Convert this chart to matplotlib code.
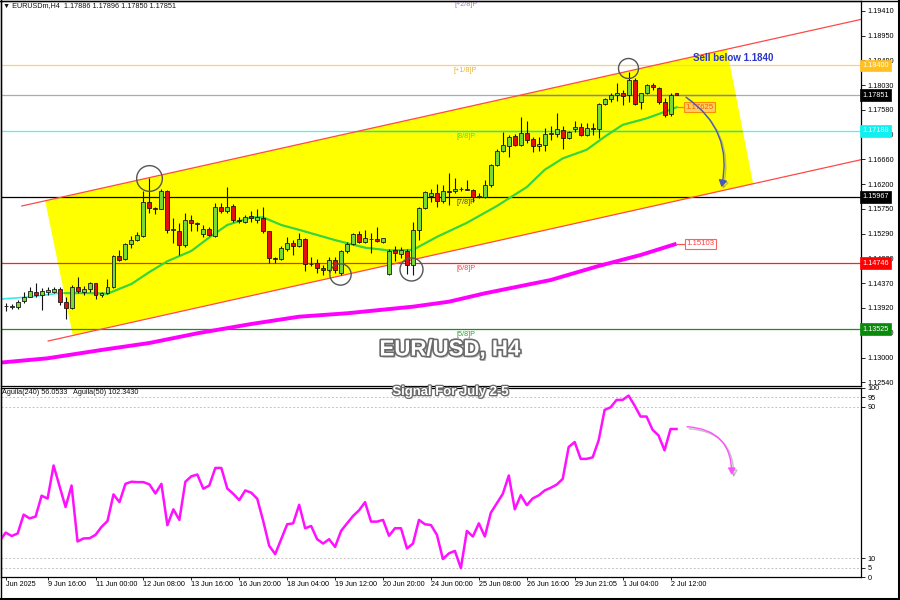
import numpy as np
import matplotlib
matplotlib.use('Agg')
import matplotlib.pyplot as plt
from matplotlib.patches import Polygon, FancyArrowPatch
import matplotlib.patheffects as pe

plt.rcParams['font.family'] = ['Liberation Sans', 'DejaVu Sans']

# EURUSD H4 candles, bar 0 = first visible candle (6 Jun 2025 ...)
opens = [1.1395, 1.1394, 1.1394, 1.1405, 1.1412, 1.1421, 1.1415, 1.1421, 1.1421, 1.1426,
         1.1402, 1.1391, 1.1430, 1.1421, 1.1426, 1.1437, 1.1415, 1.1419, 1.1430, 1.1488,
         1.1482, 1.1510, 1.1517, 1.1525, 1.1588, 1.1576, 1.1575, 1.1607, 1.1536, 1.1534,
         1.1508, 1.1554, 1.1548, 1.1528, 1.1537, 1.1525, 1.1578, 1.1570, 1.1580, 1.1554,
         1.1551, 1.1562, 1.1555, 1.1558, 1.1533, 1.1484, 1.1482, 1.1500, 1.1512, 1.1506,
         1.1519, 1.1473, 1.1474, 1.1465, 1.1462, 1.1480, 1.1456, 1.1496, 1.1510, 1.1528,
         1.1514, 1.1519, 1.1519, 1.1514, 1.1454, 1.1499, 1.1492, 1.1497, 1.1471, 1.1536,
         1.1576, 1.1598, 1.1604, 1.1590, 1.1607, 1.1607, 1.1611, 1.1611, 1.1610, 1.1597,
         1.1597, 1.1618, 1.1656, 1.1681, 1.1691, 1.1709, 1.1693, 1.1715, 1.1704, 1.1691,
         1.1693, 1.1713, 1.1713, 1.1720, 1.1705, 1.1723, 1.1726, 1.1711, 1.1724, 1.1722,
         1.1768, 1.1777, 1.1785, 1.1788, 1.1785, 1.1812, 1.1773, 1.1788, 1.1804, 1.1799,
         1.1773, 1.1750, 1.17886]
highs = [1.1401, 1.1399, 1.1406, 1.1421, 1.1430, 1.1438, 1.1428, 1.1430, 1.1430, 1.1430,
         1.1412, 1.1434, 1.1448, 1.1432, 1.1440, 1.1438, 1.1421, 1.1446, 1.1490, 1.1499,
         1.1511, 1.1524, 1.1532, 1.1607, 1.1631, 1.1579, 1.1611, 1.1610, 1.1558, 1.1548,
         1.1567, 1.1563, 1.1551, 1.1545, 1.1542, 1.1586, 1.1585, 1.1615, 1.1584, 1.1559,
         1.1563, 1.1571, 1.1574, 1.1579, 1.1534, 1.1486, 1.1506, 1.1522, 1.1517, 1.1530,
         1.1520, 1.1486, 1.1483, 1.1471, 1.1486, 1.1486, 1.1499, 1.1514, 1.1531, 1.1533,
         1.1536, 1.1530, 1.1542, 1.1521, 1.1500, 1.1506, 1.1505, 1.1500, 1.1551, 1.1579,
         1.1608, 1.1611, 1.1620, 1.1619, 1.1641, 1.1631, 1.1616, 1.1629, 1.1611, 1.1604,
         1.1628, 1.1657, 1.1685, 1.1716, 1.1711, 1.1714, 1.1744, 1.1738, 1.1708, 1.1708,
         1.1724, 1.1727, 1.1752, 1.1727, 1.1719, 1.1737, 1.1733, 1.1733, 1.1733, 1.1771,
         1.1779, 1.1789, 1.1807, 1.1794, 1.1828, 1.1816, 1.1789, 1.1806, 1.1808, 1.1800,
         1.1779, 1.1788, 1.17896]
lows = [1.1386, 1.1390, 1.1390, 1.1401, 1.1411, 1.1412, 1.1387, 1.1415, 1.1419, 1.1397,
        1.1371, 1.1390, 1.1419, 1.1415, 1.1421, 1.1408, 1.1412, 1.1417, 1.1428, 1.1479,
        1.1480, 1.1502, 1.1515, 1.1523, 1.1568, 1.1565, 1.1574, 1.1530, 1.1511, 1.1490,
        1.1504, 1.1533, 1.1533, 1.1523, 1.1525, 1.1522, 1.1568, 1.1568, 1.1551, 1.1548,
        1.1548, 1.1551, 1.1548, 1.1531, 1.1474, 1.1474, 1.1480, 1.1497, 1.1490, 1.1505,
        1.1460, 1.1469, 1.1456, 1.1453, 1.1459, 1.1456, 1.1453, 1.1493, 1.1508, 1.1512,
        1.1512, 1.1494, 1.1514, 1.1512, 1.1453, 1.1479, 1.1484, 1.1454, 1.1453, 1.1517,
        1.1575, 1.1588, 1.1578, 1.1585, 1.1582, 1.1604, 1.1607, 1.1610, 1.1588, 1.1594,
        1.1594, 1.1616, 1.1654, 1.1680, 1.1671, 1.1691, 1.1691, 1.1696, 1.1679, 1.1682,
        1.1682, 1.1702, 1.1707, 1.1685, 1.1703, 1.1717, 1.1709, 1.1709, 1.1711, 1.1705,
        1.1767, 1.1773, 1.1775, 1.1766, 1.1773, 1.1767, 1.1759, 1.1787, 1.1794, 1.1769,
        1.1745, 1.1747, 1.17850]
closes = [1.1396, 1.1395, 1.1403, 1.1412, 1.1423, 1.1415, 1.1423, 1.1424, 1.1427, 1.1402,
          1.1391, 1.1430, 1.1423, 1.1426, 1.1437, 1.1415, 1.1420, 1.1431, 1.1488, 1.1480,
          1.1509, 1.1518, 1.1526, 1.1588, 1.1576, 1.1575, 1.1608, 1.1536, 1.1538, 1.1508,
          1.1555, 1.1548, 1.1546, 1.1537, 1.1526, 1.1578, 1.1570, 1.1579, 1.1554, 1.1553,
          1.1559, 1.1557, 1.1559, 1.1533, 1.1484, 1.1482, 1.1502, 1.1511, 1.1506, 1.1519,
          1.1472, 1.1472, 1.1465, 1.1462, 1.1480, 1.1462, 1.1496, 1.1510, 1.1528, 1.1514,
          1.1520, 1.1519, 1.1515, 1.1520, 1.1497, 1.1493, 1.1498, 1.1471, 1.1536, 1.1577,
          1.1605, 1.1604, 1.1590, 1.1608, 1.1606, 1.1611, 1.1611, 1.1610, 1.1597, 1.1598,
          1.1618, 1.1656, 1.1682, 1.1693, 1.1707, 1.1693, 1.1715, 1.1702, 1.1691, 1.1695,
          1.1714, 1.1715, 1.1722, 1.1705, 1.1716, 1.1726, 1.1711, 1.1724, 1.1723, 1.1768,
          1.1777, 1.1785, 1.1788, 1.1784, 1.1813, 1.1769, 1.1788, 1.1804, 1.1800, 1.1772,
          1.1748, 1.1786, 1.17851]

# moving averages, read at sample bars
ma_fast_bars = [-1, 4, 9, 14, 17, 21, 24, 27, 31, 34, 37, 41, 43, 46, 49, 55, 60, 64, 68,
                72, 77, 82, 87, 90, 93, 97, 100, 103, 107, 110, 112]
ma_fast = [1.1408, 1.1412, 1.1419, 1.1419, 1.1418, 1.1436, 1.1458, 1.1478, 1.1497, 1.1522,
           1.1545, 1.1559, 1.1559, 1.1545, 1.1536, 1.1517, 1.1503, 1.1498, 1.1499, 1.1523,
           1.1549, 1.1580, 1.1615, 1.1647, 1.1668, 1.1684, 1.1708, 1.1730, 1.1742, 1.1754,
           1.17625]
ma_slow_bars = [-1, 7, 16, 24, 32, 41, 49, 57, 68, 74, 80, 91, 99, 106, 112]
ma_slow = [1.12905, 1.12986, 1.13140, 1.13269, 1.13448, 1.13620, 1.13755, 1.13818, 1.13940,
           1.14032, 1.14187, 1.14433, 1.14692, 1.14895, 1.15103]

# oscillator (Aguila), bars -1 .. 112
aguila = [19, 23.5, 21.7, 23, 33, 31, 32, 43, 41.5, 59, 48, 37, 48.4, 18.8, 20.4, 20.5, 22.3,
          26.5, 29.6, 43.7, 39.6, 49.3, 50.4, 50.2, 50.2, 49, 44.2, 49.3, 27.4, 35.8, 30.2,
          50.4, 53.3, 54.2, 46.7, 48.4, 57.7, 57.7, 46.8, 44, 40.7, 45.8, 44.6, 41.4, 29.6,
          16.5, 12.1, 20, 27.9, 28.4, 38.2, 25.8, 27, 20, 17.7, 20, 15.9, 24.4, 28.4, 32.3,
          35.3, 39.6, 29.3, 29.3, 30.2, 21.8, 25.8, 25.8, 15.1, 17.7, 30.2, 27.9, 27.5, 22.3,
          9.5, 12.5, 13.8, 4.7, 24.4, 21.4, 28.4, 21.4, 34, 39, 44, 53.7, 35.8, 43.3, 38,
          41.6, 43.2, 45.8, 47.2, 48.9, 51.9, 68.8, 71.4, 62.5, 62.5, 63.3, 72.3, 88.4, 89.8,
          93.7, 93.7, 96, 90.7, 84.9, 84.9, 77.9, 74.9, 67, 78.3, 78.3]

# Murrey math levels
murrey_names = ['[+2/8]P', '[+1/8]P', '[8/8]P', '[7/8]P', '[6/8]P', '[5/8]P']
murrey_levels = [1.19621, 1.18400, 1.17188, 1.15967, 1.14746, 1.13525]
murrey_line_col = ['#B070E0', '#FFD070', '#40F8F8', '#000000', '#FF2020', '#1E8C1E']
murrey_text_col = ['#B070E0', '#F0B030', '#40E040', '#404040', '#FF4040', '#30A030']
murrey_box_col = [None, '#FFC020', '#10F0F0', '#000000', '#FF0000', '#0A8A0A']
last_price = 1.17851

# trend channel + drawings
chan_upper = [(2.7, 1.15801), (142.8, 1.19249)]
chan_lower = [(7.1, 1.13306), (142.8, 1.16656)]
chan_fill = [(6.6, 1.15893), (120.4, 1.18702), (124.8, 1.16207), (11.2, 1.13417)]
circle_bars = [24.0, 55.8, 67.6, 103.9]
circle_prices = [1.16313, 1.14538, 1.14631, 1.18345]
circle_px = [25.7, 21.3, 23.0, 20.0]
sell_arrow = [(113.2, 1.1784), (119.4, 1.1610)]
osc_arrow = [(113.3, 79.6), (121.2, 52.5)]

price_ticks = [1.19410, 1.18950, 1.18490, 1.18030, 1.17580, 1.17120, 1.16660, 1.16200,
               1.15750, 1.15290, 1.14830, 1.14370, 1.13920, 1.13460, 1.13000, 1.12540]
date_bars = [0, 7, 15, 23, 31, 39, 47, 55, 63, 71, 79, 87, 95, 103, 111]
date_labels = ['Jun 2025', '9 Jun 16:00', '11 Jun 00:00', '12 Jun 08:00', '13 Jun 16:00',
               '16 Jun 20:00', '18 Jun 04:00', '19 Jun 12:00', '20 Jun 20:00', '24 Jun 00:00',
               '25 Jun 08:00', '26 Jun 16:00', '29 Jun 21:05', '1 Jul 04:00', '2 Jul 12:00']

W, H = 900, 600
fig = plt.figure(figsize=(9, 6), dpi=100)
ax = fig.add_axes([1 / W, 1 - 386 / H, 860 / W, 385 / H])
ax2 = fig.add_axes([1 / W, 1 - 577 / H, 860 / W, 189 / H])
for a in (ax, ax2):
    a.set_xlim(-0.78, 142.8)
    for s in a.spines.values():
        s.set_linewidth(0.9)
ax.set_ylim(1.12474, 1.19589)
ax2.set_ylim(0.5, 100)

# channel fill
poly = Polygon(chan_fill, closed=True, fc='#FFFF00', ec='none', zorder=1)
ax.add_patch(poly)

for (p0, p1) in (chan_upper, chan_lower):
    ax.plot([p0[0], p1[0]], [p0[1], p1[1]], color='#FF4848', lw=0.9, zorder=2)

# horizontal levels
for lev, lc in zip(murrey_levels, murrey_line_col):
    ax.axhline(lev, color=lc, lw=0.9, zorder=1.5)
ax.axhline(last_price, color='#A4ACC0', lw=0.9, zorder=1.5)
# parts of lines that look different inside the yellow fill
inside = [ax.axhline(murrey_levels[2], color='#48E048', lw=1.0, zorder=1.6),
          ax.axhline(last_price, color='#8C8C5A', lw=1.0, zorder=1.6)]

ax.plot(ma_slow_bars, ma_slow, color='#FF00FF', lw=2.8, zorder=2.5, solid_capstyle='butt')
ax.plot(ma_fast_bars, ma_fast, color='#40E8E8', lw=1.2, zorder=2.5)
inside += ax.plot(ma_fast_bars, ma_fast, color='#3AD630', lw=1.5, zorder=2.6)
for ln in inside:
    ln.set_clip_path(poly)

# candles
o, h, l, c = (np.array(v) for v in (opens, highs, lows, closes))
x = np.arange(len(o))
up = c >= o
ax.vlines(x, l, h, color='#111111', lw=0.8, zorder=3)
ax.bar(x, np.maximum(np.abs(c - o), 0.00003), bottom=np.minimum(o, c), width=0.66,
       color=np.where(up, '#78D834', '#E41010'), edgecolor='#1A1A1A', linewidth=0.6, zorder=4)

# circles
for cb, cp, d in zip(circle_bars, circle_prices, circle_px):
    ax.plot(cb, cp, 'o', ms=d * 0.72, mfc='none', mec='#555555', mew=1.0, zorder=5)

# murrey labels
for name, lev, tc in zip(murrey_names, murrey_levels, murrey_text_col):
    ax.annotate(name, (76.8, lev), xytext=(0, -1.5), textcoords='offset points',
                ha='center', va='top', fontsize=5.2, color=tc, zorder=6, annotation_clip=False)

# right axis
ax.yaxis.tick_right()
ax.set_yticks(price_ticks)
ax.set_yticklabels([f'{v:.5f}' for v in price_ticks])
ax.set_xticks([])
ax.tick_params(axis='y', length=3, width=0.6, labelsize=5.2, pad=1.5)
ybox = ax.get_yaxis_transform()
for lev, bc in zip(murrey_levels, murrey_box_col):
    if bc is None:
        continue
    ax.text(1.0015, lev, f'{lev:.5f}', transform=ybox, ha='left', va='center', fontsize=5.2,
            color='white', zorder=10, clip_on=False,
            bbox=dict(boxstyle='square,pad=0.3', fc=bc, ec=bc, lw=0.5))
ax.text(1.0015, last_price, f'{last_price:.5f}', transform=ybox, ha='left', va='center',
        fontsize=5.2, color='white', zorder=10, clip_on=False,
        bbox=dict(boxstyle='square,pad=0.3', fc='black', ec='black', lw=0.5))

# MA value tags
ax.plot([ma_fast_bars[-1], ma_fast_bars[-1] + 1.4], [ma_fast[-1]] * 2, color='#FF7A00', lw=0.9, zorder=5)
ax.text(ma_fast_bars[-1] + 1.5, ma_fast[-1], f'{ma_fast[-1]:.5f}', ha='left', va='center',
        fontsize=5.6, color='#FF5A00', zorder=6,
        bbox=dict(boxstyle='square,pad=0.2', fc='#FFD060', ec='#FF8C00', lw=0.8))
ax.plot([ma_slow_bars[-1], ma_slow_bars[-1] + 1.5], [ma_slow[-1]] * 2, color='#FF5050', lw=0.9, zorder=5)
ax.text(ma_slow_bars[-1] + 1.6, ma_slow[-1], f'{ma_slow[-1]:.5f}', ha='left', va='center',
        fontsize=5.6, color='#FF4040', zorder=6,
        bbox=dict(boxstyle='square,pad=0.2', fc='white', ec='#FF6060', lw=0.8))

ax.text(114.7, 1.18530, 'Sell below 1.1840', ha='left', va='center', fontsize=7,
        fontweight='bold', color='#2A36C8', zorder=6)

arr = FancyArrowPatch(sell_arrow[0], sell_arrow[1], connectionstyle='arc3,rad=-0.35',
                      arrowstyle='-|>,head_length=4,head_width=2.5', color='#4A58B8', lw=1.0,
                      zorder=6)
arr.set_path_effects([pe.SimpleLineShadow(offset=(1.2, -1.2), shadow_color='#888888',
                                          alpha=0.5), pe.Normal()])
ax.add_patch(arr)

# oscillator
ax2.plot(np.arange(-1, len(aguila) - 1), aguila, color='#FF10FF', lw=1.8, zorder=3)
for lv in (5, 10, 90, 95):
    ax2.axhline(lv, color='#C4C4C4', lw=0.7, ls=(0, (2, 2)), zorder=1)
ax2.yaxis.tick_right()
ax2.set_yticks([0, 5, 10, 90, 95, 100])
ax2.set_yticklabels(['0', '5', '10', '90', '95', '100'])
ax2.tick_params(axis='y', length=3, width=0.6, labelsize=5.2, pad=1.5)
ax2.set_xticks(date_bars)
ax2.set_xticklabels(date_labels)
ax2.tick_params(axis='x', length=2, width=0.6, labelsize=5.2, pad=1.2)
for lbl in ax2.get_xticklabels():
    lbl.set_ha('left')
oarr = FancyArrowPatch(osc_arrow[0], osc_arrow[1], connectionstyle='arc3,rad=-0.5',
                       arrowstyle='-|>,head_length=4,head_width=2.2', color='#FF50FF', lw=1.0,
                       zorder=5)
oarr.set_path_effects([pe.SimpleLineShadow(offset=(1.5, -1.5), shadow_color='#888888',
                                           alpha=0.5), pe.Normal()])
ax2.add_patch(oarr)

# header texts
fig.text(3 / W, 1 - 6 / H, '\u25bc EURUSDm,H4  1.17886 1.17896 1.17850 1.17851', ha='left',
         va='center', fontsize=5.2, color='#111111')
fig.text(2 / W, 1 - 393 / H, 'Aguila(240) 56.0533   Aguila(50) 102.3430', ha='left',
         va='center', fontsize=5.2, color='#111111')

big_fx = [pe.SimplePatchShadow(offset=(1.5, -1.5), shadow_rgbFace='#9A9A9A', alpha=0.7),
          pe.Stroke(linewidth=2.4, foreground='#6A6A6A'), pe.Normal()]
fig.text(0.5, 1 - 350 / H, 'EUR/USD, H4', ha='center', va='center', fontsize=16,
         fontweight='bold', color='white', path_effects=big_fx)
fig.text(0.5, 1 - 392 / H, 'Signal For July 2-5', ha='center', va='center', fontsize=9.4,
         fontweight='bold', color='white',
         path_effects=[pe.SimplePatchShadow(offset=(1, -1), shadow_rgbFace='#9A9A9A', alpha=0.7),
                       pe.Stroke(linewidth=1.8, foreground='#6A6A6A'), pe.Normal()])

# window frame
fig.add_artist(plt.Line2D([0, 1], [1.5 / H, 1.5 / H], color='black', lw=2.2))
fig.add_artist(plt.Line2D([1 - 1.5 / W, 1 - 1.5 / W], [0, 1], color='black', lw=2.2))
fig.add_artist(plt.Line2D([0.5 / W, 0.5 / W], [0, 1], color='black', lw=1))
fig.add_artist(plt.Line2D([0, 1], [1 - 0.5 / H, 1 - 0.5 / H], color='black', lw=1))

fig.savefig('out.png', dpi=100)
